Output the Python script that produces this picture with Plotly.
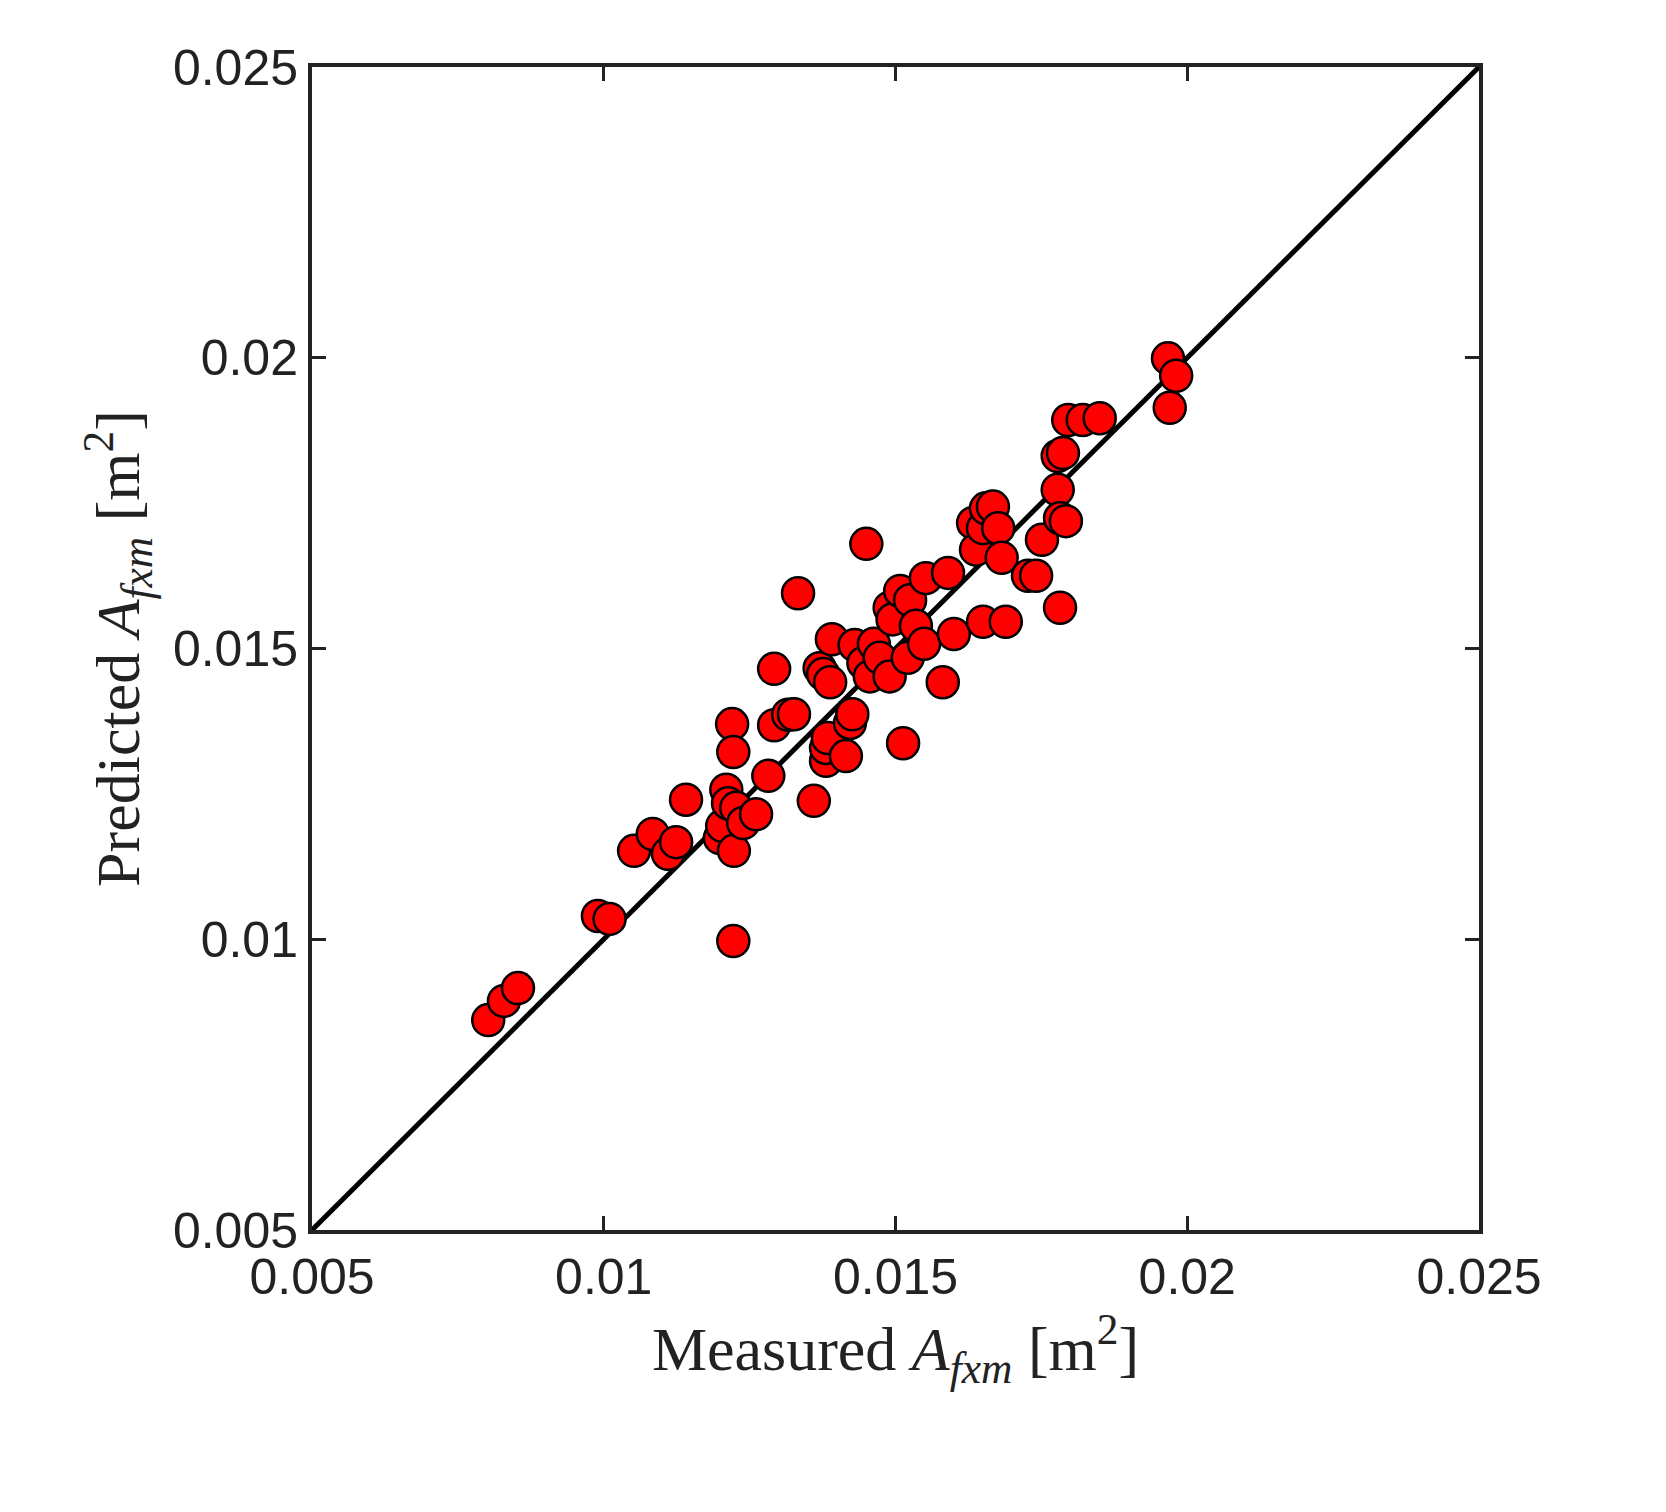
import plotly.graph_objects as go

measured = [0.00802,0.00829,0.00853,0.0099,0.0101,0.01052,0.01084,0.0111,0.01124,0.01141,0.01199,0.01203,0.0121,0.01213,0.01223,0.01222,0.0122,0.01222,0.01227,0.01239,0.01261,0.01282,0.01292,0.01292,0.01316,0.01326,0.01333,0.0136,0.0137,0.01376,0.01381,0.01381,0.01384,0.01388,0.01391,0.01415,0.01422,0.01426,0.0143,0.01445,0.0145,0.01456,0.01463,0.01473,0.0149,0.0149,0.01495,0.01508,0.01513,0.01521,0.01525,0.01535,0.01549,0.01552,0.01581,0.0159,0.016,0.01633,0.01638,0.0165,0.0165,0.01655,0.01667,0.01676,0.01682,0.01689,0.01727,0.01741,0.01751,0.01778,0.01782,0.01782,0.01778,0.01787,0.01792,0.01796,0.01821,0.0185,0.01967,0.0197,0.01981]
predicted = [0.00861,0.00894,0.00916,0.0104,0.01035,0.01152,0.01181,0.01147,0.01167,0.0124,0.01174,0.01195,0.01257,0.01234,0.01152,0.00997,0.0137,0.01322,0.01226,0.012,0.01215,0.01281,0.01465,0.01368,0.01386,0.01387,0.01595,0.01238,0.01466,0.01456,0.01307,0.01329,0.01346,0.01442,0.01516,0.01315,0.01372,0.01387,0.01506,0.01475,0.0168,0.01452,0.01508,0.01484,0.01452,0.0157,0.0155,0.01599,0.01337,0.01484,0.01583,0.01539,0.01508,0.01621,0.01442,0.0163,0.01525,0.01716,0.0167,0.01546,0.01707,0.01741,0.01744,0.01707,0.01656,0.01546,0.01625,0.01625,0.01687,0.01773,0.01724,0.0157,0.01831,0.01836,0.01719,0.01893,0.01893,0.01896,0.01999,0.01914,0.01969]
line_xy = [0.005, 0.025]
ticks = [0.005, 0.01, 0.015, 0.02, 0.025]
tick_text = ["0.005", "0.01", "0.015", "0.02", "0.025"]

fig = go.Figure()
fig.add_trace(go.Scatter(x=line_xy, y=line_xy, mode="lines",
                         line=dict(color="black", width=5), showlegend=False))
fig.add_trace(go.Scatter(x=measured, y=predicted, mode="markers",
                         marker=dict(color="red", size=32, line=dict(color="black", width=2.5)),
                         showlegend=False))
ax = dict(range=[0.005, 0.025], tickvals=ticks, ticktext=tick_text, showgrid=False,
          zeroline=False, showline=True, mirror="ticks", linecolor="#222", linewidth=4,
          ticks="inside", ticklen=14, tickwidth=3, tickcolor="#222",
          tickfont=dict(family="Liberation Sans, Arial", size=50, color="#222"))
fig.update_layout(
    width=1666, height=1512, plot_bgcolor="white", paper_bgcolor="white",
    margin=dict(l=304, r=195, t=59, b=290),
    xaxis=dict(**ax, title=dict(text="Measured <i>A</i><sub><i>fxm</i></sub> [m<sup>2</sup>]",
               font=dict(family="Liberation Serif, serif", size=62, color="#222"), standoff=8)),
    yaxis=dict(**ax, title=dict(text="Predicted <i>A</i><sub><i>fxm</i></sub> [m<sup>2</sup>]",
               font=dict(family="Liberation Serif, serif", size=62, color="#222"), standoff=14)),
)
fig.write_html("out.html")
